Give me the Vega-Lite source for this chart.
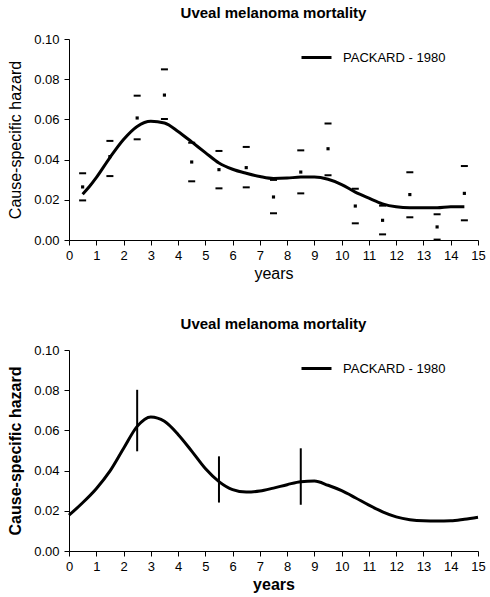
{
  "$schema": "https://vega.github.io/schema/vega-lite/v6.json",
  "padding": {"left": 7, "top": 6, "right": 5, "bottom": 2},
  "background": "white",
  "datasets": {
    "pts": [
      {"year": 0.5, "hazard": 0.0332, "kind": "upper"},
      {"year": 0.5, "hazard": 0.0264, "kind": "mid"},
      {"year": 0.5, "hazard": 0.0197, "kind": "lower"},
      {"year": 1.5, "hazard": 0.0493, "kind": "upper"},
      {"year": 1.5, "hazard": 0.0415, "kind": "mid"},
      {"year": 1.5, "hazard": 0.0318, "kind": "lower"},
      {"year": 2.5, "hazard": 0.0718, "kind": "upper"},
      {"year": 2.5, "hazard": 0.0607, "kind": "mid"},
      {"year": 2.5, "hazard": 0.0501, "kind": "lower"},
      {"year": 3.5, "hazard": 0.0849, "kind": "upper"},
      {"year": 3.5, "hazard": 0.0721, "kind": "mid"},
      {"year": 3.5, "hazard": 0.0602, "kind": "lower"},
      {"year": 4.5, "hazard": 0.0484, "kind": "upper"},
      {"year": 4.5, "hazard": 0.0388, "kind": "mid"},
      {"year": 4.5, "hazard": 0.0292, "kind": "lower"},
      {"year": 5.5, "hazard": 0.0443, "kind": "upper"},
      {"year": 5.5, "hazard": 0.0350, "kind": "mid"},
      {"year": 5.5, "hazard": 0.0257, "kind": "lower"},
      {"year": 6.5, "hazard": 0.0463, "kind": "upper"},
      {"year": 6.5, "hazard": 0.0360, "kind": "mid"},
      {"year": 6.5, "hazard": 0.0262, "kind": "lower"},
      {"year": 7.5, "hazard": 0.0299, "kind": "upper"},
      {"year": 7.5, "hazard": 0.0214, "kind": "mid"},
      {"year": 7.5, "hazard": 0.0133, "kind": "lower"},
      {"year": 8.5, "hazard": 0.0446, "kind": "upper"},
      {"year": 8.5, "hazard": 0.0338, "kind": "mid"},
      {"year": 8.5, "hazard": 0.0232, "kind": "lower"},
      {"year": 9.5, "hazard": 0.0580, "kind": "upper"},
      {"year": 9.5, "hazard": 0.0454, "kind": "mid"},
      {"year": 9.5, "hazard": 0.0322, "kind": "lower"},
      {"year": 10.5, "hazard": 0.0255, "kind": "upper"},
      {"year": 10.5, "hazard": 0.0169, "kind": "mid"},
      {"year": 10.5, "hazard": 0.0083, "kind": "lower"},
      {"year": 11.5, "hazard": 0.0171, "kind": "upper"},
      {"year": 11.5, "hazard": 0.0098, "kind": "mid"},
      {"year": 11.5, "hazard": 0.0028, "kind": "lower"},
      {"year": 12.5, "hazard": 0.0337, "kind": "upper"},
      {"year": 12.5, "hazard": 0.0226, "kind": "mid"},
      {"year": 12.5, "hazard": 0.0113, "kind": "lower"},
      {"year": 13.5, "hazard": 0.0128, "kind": "upper"},
      {"year": 13.5, "hazard": 0.0065, "kind": "mid"},
      {"year": 13.5, "hazard": 0.0002, "kind": "lower"},
      {"year": 14.5, "hazard": 0.0368, "kind": "upper"},
      {"year": 14.5, "hazard": 0.0232, "kind": "mid"},
      {"year": 14.5, "hazard": 0.0098, "kind": "lower"}
    ],
    "curveTop": [
      {"year": 0.5, "hazard": 0.0228, "series": "PACKARD - 1980"},
      {"year": 0.75, "hazard": 0.0266, "series": "PACKARD - 1980"},
      {"year": 1.0, "hazard": 0.0310, "series": "PACKARD - 1980"},
      {"year": 1.5, "hazard": 0.0410, "series": "PACKARD - 1980"},
      {"year": 2.0, "hazard": 0.0500, "series": "PACKARD - 1980"},
      {"year": 2.5, "hazard": 0.0565, "series": "PACKARD - 1980"},
      {"year": 3.0, "hazard": 0.0591, "series": "PACKARD - 1980"},
      {"year": 3.5, "hazard": 0.0582, "series": "PACKARD - 1980"},
      {"year": 4.0, "hazard": 0.0540, "series": "PACKARD - 1980"},
      {"year": 4.5, "hazard": 0.0488, "series": "PACKARD - 1980"},
      {"year": 5.0, "hazard": 0.0435, "series": "PACKARD - 1980"},
      {"year": 5.5, "hazard": 0.0383, "series": "PACKARD - 1980"},
      {"year": 6.0, "hazard": 0.0352, "series": "PACKARD - 1980"},
      {"year": 6.5, "hazard": 0.0332, "series": "PACKARD - 1980"},
      {"year": 7.0, "hazard": 0.0316, "series": "PACKARD - 1980"},
      {"year": 7.5, "hazard": 0.0306, "series": "PACKARD - 1980"},
      {"year": 8.0, "hazard": 0.0308, "series": "PACKARD - 1980"},
      {"year": 8.5, "hazard": 0.0313, "series": "PACKARD - 1980"},
      {"year": 9.0, "hazard": 0.0313, "series": "PACKARD - 1980"},
      {"year": 9.5, "hazard": 0.0302, "series": "PACKARD - 1980"},
      {"year": 10.0, "hazard": 0.0276, "series": "PACKARD - 1980"},
      {"year": 10.5, "hazard": 0.0238, "series": "PACKARD - 1980"},
      {"year": 11.0, "hazard": 0.0208, "series": "PACKARD - 1980"},
      {"year": 11.5, "hazard": 0.0180, "series": "PACKARD - 1980"},
      {"year": 12.0, "hazard": 0.0165, "series": "PACKARD - 1980"},
      {"year": 12.5, "hazard": 0.0160, "series": "PACKARD - 1980"},
      {"year": 13.0, "hazard": 0.0160, "series": "PACKARD - 1980"},
      {"year": 13.5, "hazard": 0.0160, "series": "PACKARD - 1980"},
      {"year": 14.0, "hazard": 0.0165, "series": "PACKARD - 1980"},
      {"year": 14.5, "hazard": 0.0165, "series": "PACKARD - 1980"}
    ],
    "curveBottom": [
      {"year": 0.0, "hazard": 0.0178, "series": "PACKARD - 1980"},
      {"year": 0.5, "hazard": 0.0240, "series": "PACKARD - 1980"},
      {"year": 1.0, "hazard": 0.0310, "series": "PACKARD - 1980"},
      {"year": 1.5, "hazard": 0.0397, "series": "PACKARD - 1980"},
      {"year": 2.0, "hazard": 0.0510, "series": "PACKARD - 1980"},
      {"year": 2.5, "hazard": 0.0620, "series": "PACKARD - 1980"},
      {"year": 3.0, "hazard": 0.0667, "series": "PACKARD - 1980"},
      {"year": 3.5, "hazard": 0.0645, "series": "PACKARD - 1980"},
      {"year": 4.0, "hazard": 0.0580, "series": "PACKARD - 1980"},
      {"year": 4.5, "hazard": 0.0497, "series": "PACKARD - 1980"},
      {"year": 5.0, "hazard": 0.0410, "series": "PACKARD - 1980"},
      {"year": 5.5, "hazard": 0.0345, "series": "PACKARD - 1980"},
      {"year": 6.0, "hazard": 0.0305, "series": "PACKARD - 1980"},
      {"year": 6.5, "hazard": 0.0293, "series": "PACKARD - 1980"},
      {"year": 7.0, "hazard": 0.0298, "series": "PACKARD - 1980"},
      {"year": 7.5, "hazard": 0.0313, "series": "PACKARD - 1980"},
      {"year": 8.0, "hazard": 0.0330, "series": "PACKARD - 1980"},
      {"year": 8.5, "hazard": 0.0345, "series": "PACKARD - 1980"},
      {"year": 9.0, "hazard": 0.0348, "series": "PACKARD - 1980"},
      {"year": 9.5, "hazard": 0.0327, "series": "PACKARD - 1980"},
      {"year": 10.0, "hazard": 0.0300, "series": "PACKARD - 1980"},
      {"year": 10.5, "hazard": 0.0265, "series": "PACKARD - 1980"},
      {"year": 11.0, "hazard": 0.0228, "series": "PACKARD - 1980"},
      {"year": 11.5, "hazard": 0.0195, "series": "PACKARD - 1980"},
      {"year": 12.0, "hazard": 0.0170, "series": "PACKARD - 1980"},
      {"year": 12.5, "hazard": 0.0156, "series": "PACKARD - 1980"},
      {"year": 13.0, "hazard": 0.0150, "series": "PACKARD - 1980"},
      {"year": 13.5, "hazard": 0.0149, "series": "PACKARD - 1980"},
      {"year": 14.0, "hazard": 0.0150, "series": "PACKARD - 1980"},
      {"year": 14.5, "hazard": 0.0158, "series": "PACKARD - 1980"},
      {"year": 15.0, "hazard": 0.0168, "series": "PACKARD - 1980"}
    ],
    "errs": [
      {"year": 2.5, "lo": 0.0496, "hi": 0.0802},
      {"year": 5.5, "lo": 0.0241, "hi": 0.0471},
      {"year": 8.5, "lo": 0.0230, "hi": 0.0511}
    ]
  },
  "vconcat": [
    {
      "width": 409,
      "height": 201,
      "title": {"text": "Uveal melanoma mortality", "fontSize": 15, "font": "Liberation Sans", "fontWeight": "bold", "offset": 12, "color": "black"},
      "encoding": {
        "x": {"field": "year", "type": "quantitative", "scale": {"domain": [0, 15], "nice": false}, "axis": {"title": "years", "values": [0,1,2,3,4,5,6,7,8,9,10,11,12,13,14,15], "titleFontWeight": "normal"}},
        "y": {"field": "hazard", "type": "quantitative", "scale": {"domain": [0, 0.1], "nice": false}, "axis": {"title": "Cause-specific hazard", "values": [0, 0.02, 0.04, 0.06, 0.08, 0.1], "format": ".2f", "titleFontWeight": "normal"}}
      },
      "layer": [
        {
          "data": {"name": "pts"},
          "transform": [{"filter": "datum.kind !== 'mid'"}],
          "mark": {"type": "tick", "orient": "horizontal", "size": 7, "thickness": 2, "color": "black", "opacity": 1}
        },
        {
          "data": {"name": "pts"},
          "transform": [{"filter": "datum.kind === 'mid'"}],
          "mark": {"type": "square", "size": 10, "color": "black", "opacity": 1}
        },
        {
          "data": {"name": "curveTop"},
          "mark": {"type": "line", "interpolate": "monotone", "strokeWidth": 3},
          "encoding": {
            "color": {"field": "series", "type": "nominal", "scale": {"range": ["black"]},
              "legend": {"title": null, "orient": "none", "legendX": 231, "legendY": 2, "symbolType": "stroke", "symbolSize": 900, "symbolStrokeWidth": 3, "labelFontSize": 13, "labelFont": "Liberation Sans", "labelOffset": 10, "padding": 0, "labelColor": "black"}}
          }
        }
      ]
    },
    {
      "width": 409,
      "height": 201,
      "title": {"text": "Uveal melanoma mortality", "fontSize": 15, "font": "Liberation Sans", "fontWeight": "bold", "offset": 12, "color": "black"},
      "encoding": {
        "x": {"field": "year", "type": "quantitative", "scale": {"domain": [0, 15], "nice": false}, "axis": {"title": "years", "values": [0,1,2,3,4,5,6,7,8,9,10,11,12,13,14,15], "titleFontWeight": "bold"}}
      },
      "layer": [
        {
          "data": {"name": "curveBottom"},
          "mark": {"type": "line", "interpolate": "monotone", "strokeWidth": 3},
          "encoding": {
            "y": {"field": "hazard", "type": "quantitative", "scale": {"domain": [0, 0.1], "nice": false}, "axis": {"title": "Cause-specific hazard", "values": [0, 0.02, 0.04, 0.06, 0.08, 0.1], "format": ".2f", "titleFontWeight": "bold"}},
            "color": {"field": "series", "type": "nominal", "scale": {"range": ["black"]},
              "legend": {"title": null, "orient": "none", "legendX": 231, "legendY": 2, "symbolType": "stroke", "symbolSize": 900, "symbolStrokeWidth": 3, "labelFontSize": 13, "labelFont": "Liberation Sans", "labelOffset": 10, "padding": 0, "labelColor": "black"}}
          }
        },
        {
          "data": {"name": "errs"},
          "mark": {"type": "rule", "strokeWidth": 2, "color": "black"},
          "encoding": {
            "y": {"field": "lo", "type": "quantitative", "axis": {"title": "Cause-specific hazard", "titleFontWeight": "bold", "values": [0, 0.02, 0.04, 0.06, 0.08, 0.1], "format": ".2f"}},
            "y2": {"field": "hi"}
          }
        }
      ]
    }
  ],
  "spacing": 36,
  "resolve": {"scale": {"color": "independent"}, "legend": {"color": "independent"}},
  "config": {
    "view": {"stroke": null},
    "axis": {
      "grid": false,
      "domainColor": "black",
      "tickColor": "black",
      "tickSize": 5,
      "labelColor": "black",
      "labelFont": "Liberation Sans",
      "labelFontSize": 13,
      "labelOverlap": false,
      "labelFlush": false,
      "titleColor": "black",
      "titleFont": "Liberation Sans",
      "titleFontSize": 16,
      "titleFontWeight": "normal",
      "labelPadding": 4
    },
    "axisX": {"labelAngle": 0, "titlePadding": 3},
    "axisY": {"titlePadding": 10, "labelPadding": 5}
  }
}
